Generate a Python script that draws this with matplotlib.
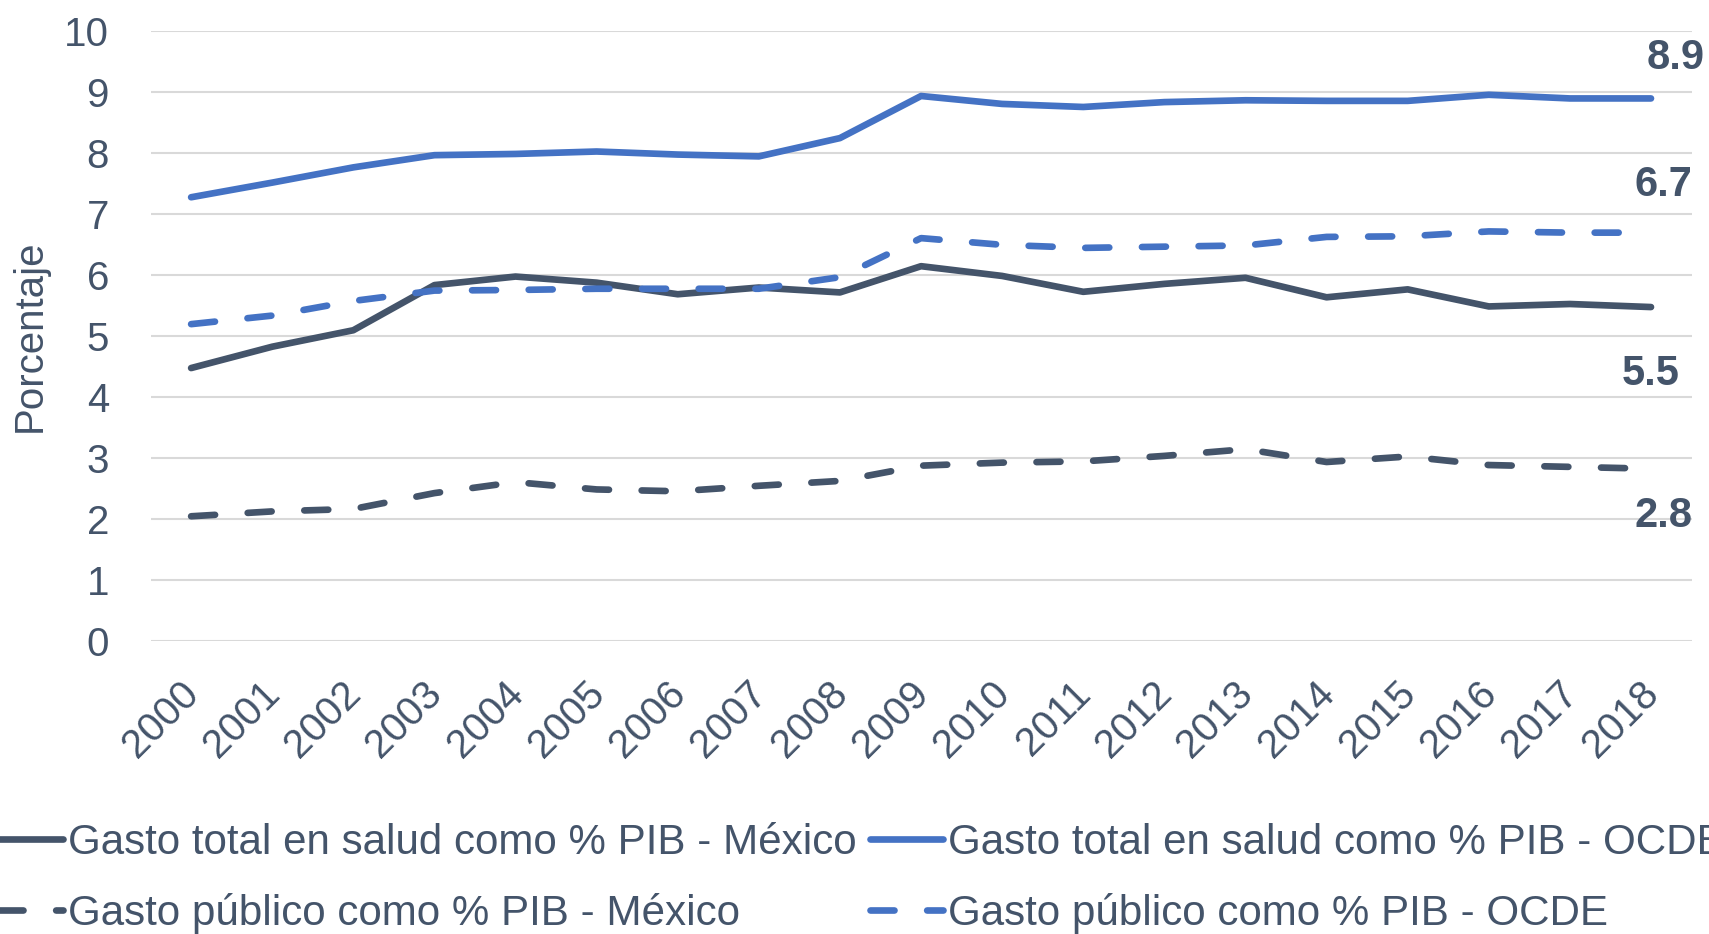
import matplotlib
matplotlib.use('Agg')
import matplotlib.pyplot as plt
import matplotlib.transforms as mtransforms
import numpy as np

plt.rcParams['font.family'] = ['Liberation Sans', 'DejaVu Sans']

years = [str(y) for y in range(2000, 2019)]

# gasto total en salud como % del PIB
total_mexico = [4.47, 4.82, 5.09, 5.83, 5.97, 5.87, 5.68, 5.79, 5.71, 6.14,
                5.98, 5.72, 5.85, 5.95, 5.63, 5.76, 5.48, 5.52, 5.47]
total_ocde = [7.27, 7.51, 7.76, 7.96, 7.98, 8.02, 7.97, 7.94, 8.24, 8.93,
              8.80, 8.75, 8.83, 8.86, 8.85, 8.85, 8.95, 8.89, 8.89]

# gasto publico como % del PIB
publico_mexico = [2.04, 2.12, 2.16, 2.42, 2.60, 2.48, 2.45, 2.54, 2.62, 2.87,
                  2.92, 2.94, 3.03, 3.14, 2.93, 3.02, 2.88, 2.85, 2.82]
publico_ocde = [5.19, 5.33, 5.57, 5.74, 5.75, 5.77, 5.77, 5.77, 5.96, 6.60,
                6.49, 6.44, 6.46, 6.48, 6.62, 6.63, 6.71, 6.69, 6.69]

last_labels = ['8.9', '6.7', '5.5', '2.8']

DARK = '#44546A'
BLUE = '#4472C4'
GRID = '#D9D9D9'
FS = 29

fig = plt.figure(figsize=(17.09, 9.34), dpi=100)
ax = fig.add_axes([0.0881, 0.314, 0.9017, 0.6531])

x = np.arange(len(years))
lw = 4.8
dash = (3.6, 4.9)

l1, = ax.plot(x, total_mexico, color=DARK, lw=lw, solid_capstyle='round',
              solid_joinstyle='round', label='Gasto total en salud como % PIB - México')
l2, = ax.plot(x, total_ocde, color=BLUE, lw=lw, solid_capstyle='round',
              solid_joinstyle='round', label='Gasto total en salud como % PIB - OCDE')
l3, = ax.plot(x, publico_mexico, color=DARK, lw=lw, dashes=dash, dash_capstyle='round',
              label='Gasto público como % PIB - México')
l4, = ax.plot(x, publico_ocde, color=BLUE, lw=lw, dashes=dash, dash_capstyle='round',
              label='Gasto público como % PIB - OCDE')

ax.set_xlim(-0.5, len(years) - 0.5)
ax.set_ylim(0, 10)
ax.set_yticks(range(0, 11))
ax.set_xticks(x)
ax.set_xticklabels(years, rotation=45, ha='right', va='top')
ax.tick_params(axis='y', length=0, pad=30, labelsize=FS, labelcolor=DARK)
ax.tick_params(axis='x', length=0, pad=24, labelsize=FS, labelcolor=DARK)
shift = mtransforms.ScaledTranslation(15 / 100, 0, fig.dpi_scale_trans)
for lab in ax.get_xticklabels():
    lab.set_transform(lab.get_transform() + shift)

ax.grid(axis='y', color=GRID, lw=1.5)
ax.set_axisbelow(True)
for s in ax.spines.values():
    s.set_visible(False)

ax.set_ylabel('Porcentaje', fontsize=FS, color=DARK)
ax.yaxis.set_label_coords(-0.066, 0.5)

# etiquetas del ultimo valor
series = [total_ocde, publico_ocde, total_mexico, publico_mexico]
offsets = [(18, 29), (9, 34), (0, -48), (9, -34)]
for s, txt, off in zip(series, last_labels, offsets):
    ax.annotate(txt, (x[-1], s[-1]), xytext=off, textcoords='offset points',
                ha='center', va='center', fontsize=30, fontweight='bold',
                color=DARK, annotation_clip=False)

fig.legend(handles=[l1, l3, l2, l4], loc='upper left',
           bbox_to_anchor=(-0.006, 0.119), ncol=2, frameon=False,
           fontsize=30.3, labelcolor=DARK, handlelength=1.75, handletextpad=0.12,
           columnspacing=0.3, labelspacing=0.72, borderpad=0, borderaxespad=0)

fig.savefig('out.png', dpi=100)
